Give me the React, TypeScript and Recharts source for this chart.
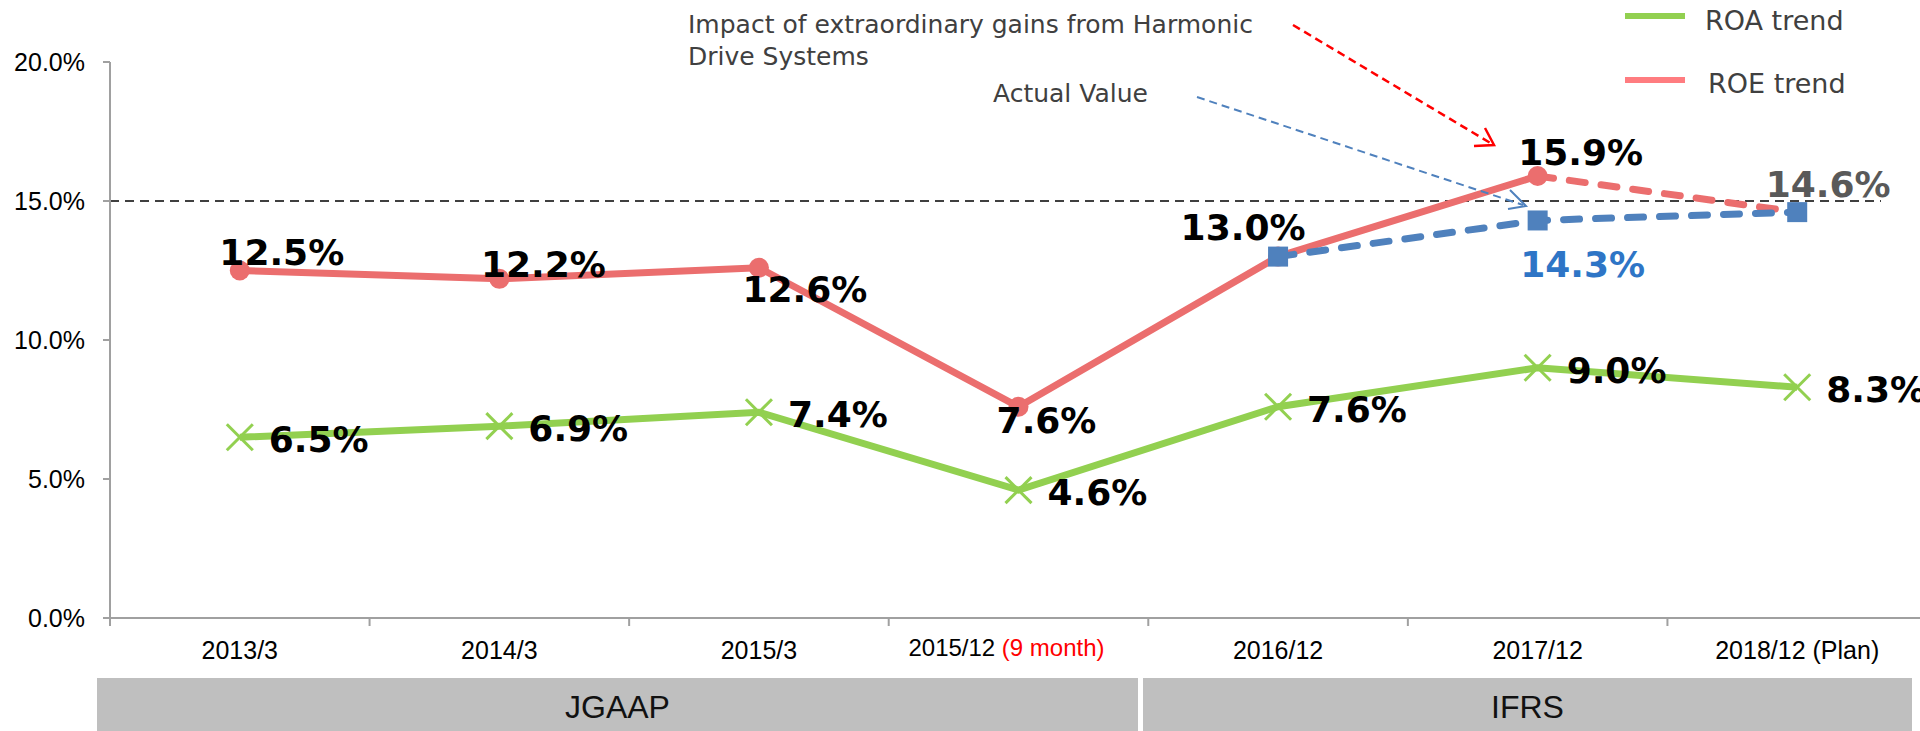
import React from "react";
import {
    LineChart,
    Line,
    XAxis,
    YAxis,
    ReferenceLine,
    LabelList
} from "recharts";

// fiscal periods on the x axis
const categories = ["2013/3", "2014/3", "2015/3", "2015/12", "2016/12", "2017/12", "2018/12"];
const categoryLabels = ["2013/3", "2014/3", "2015/3", "2015/12", "2016/12", "2017/12", "2018/12 (Plan)"];
const categoryNotes = ["", "", "", "(9 month)", "", "", ""];

// values in %
const roaValues = [6.5, 6.9, 7.4, 4.6, 7.6, 9.0, 8.3];
const roeValues = [12.5, 12.2, 12.6, 7.6, 13.0, 15.9, null];
const roeImpactValues = [null, null, null, null, null, 15.9, 14.6];
const actualValues = [null, null, null, null, 13.0, 14.3, 14.6];

const yTicks = [0, 5, 10, 15, 20];
const targetLine = 15;

const data = categories.map((name, i) => ({
    name,
    roa: roaValues[i],
    roe: roeValues[i],
    roeImpact: roeImpactValues[i],
    actual: actualValues[i]
}));

const CHART_W = 1927;
const CHART_H = 731;
const Y_W = 110;
const HALF_BAND = (CHART_W - Y_W) / categories.length / 2;

const GREEN = "#92D050";
const RED = "#EB6E6E";
const BLUE = "#4F81BD";
const AXIS = "#A0A0A0";
const LABEL_FONT = "'DejaVu Sans', Verdana, sans-serif";
const TICK_FONT = "'Liberation Sans', Arial, sans-serif";

// label placement per point (offset from the point)
const roeLabelPlace = [
    { dx: 42, dy: -6 },
    { dx: 44, dy: -2 },
    { dx: 46, dy: 34 },
    { dx: 28, dy: 26 },
    { dx: -35, dy: -17 },
    { dx: 43, dy: -11 },
    null
];
const actualLabelPlace = [
    null, null, null, null, null,
    { dx: 45, dy: 57, fill: "#2E75C6" },
    { dx: 31, dy: -15, fill: "#595959" }
];

const fmt = (v: number) => v.toFixed(1) + "%";

const makeLabel = (places: any[]) => (props: any) => {
    const { x, y, value, index } = props;
    const p = places[index];
    if (!p || value == null) return null;
    return (
        <text
            x={x + p.dx}
            y={y + p.dy}
            textAnchor="middle"
            fontFamily={LABEL_FONT}
            fontWeight="bold"
            fontSize={36}
            fill={p.fill || "#000"}
        >
            {fmt(value)}
        </text>
    );
};

const roaLabel = (props: any) => {
    const { x, y, value } = props;
    if (value == null) return null;
    return (
        <text x={x + 29} y={y + 15} fontFamily={LABEL_FONT} fontWeight="bold" fontSize={36} fill="#000">
            {fmt(value)}
        </text>
    );
};

const CrossDot = (props: any) => {
    const { cx, cy, index } = props;
    if (cx == null || cy == null) return <g key={`x-${index}`} />;
    const s = 13;
    return (
        <g key={`x-${index}`} stroke={GREEN} strokeWidth={3}>
            <line x1={cx - s} y1={cy - s} x2={cx + s} y2={cy + s} />
            <line x1={cx - s} y1={cy + s} x2={cx + s} y2={cy - s} />
        </g>
    );
};

const SquareDot = (props: any) => {
    const { cx, cy, index } = props;
    if (cx == null || cy == null) return <g key={`s-${index}`} />;
    return <rect key={`s-${index}`} x={cx - 10} y={cy - 10} width={20} height={20} fill={BLUE} />;
};

const CategoryTick = (props: any) => {
    const { x, y, payload, index } = props;
    const i = categories.indexOf(payload.value);
    const note = categoryNotes[i];
    return (
        <g key={`t-${index}`}>
            <line x1={x - HALF_BAND} y1={y} x2={x - HALF_BAND} y2={y + 8} stroke={AXIS} strokeWidth={2} />
            {note ? (
                <text x={x - 12} y={y + 38} textAnchor="middle" fontFamily={TICK_FONT} fontSize={24} fill="#000">
                    {categoryLabels[i] + " "}
                    <tspan fill="#FF0000">{note}</tspan>
                </text>
            ) : (
                <text x={x} y={y + 41} textAnchor="middle" fontFamily={TICK_FONT} fontSize={25} fill="#000">
                    {categoryLabels[i]}
                </text>
            )}
        </g>
    );
};

const TargetShape = (props: any) => {
    const { x1, y1, x2, y2 } = props;
    return (
        <line x1={x1} y1={y1} x2={x2 - 46} y2={y2} stroke="#404040" strokeWidth={2} strokeDasharray="9 6" />
    );
};

const boxStyle: React.CSSProperties = {
    position: "absolute",
    top: 678,
    height: 53,
    background: "#BFBFBF",
    display: "flex",
    alignItems: "center",
    justifyContent: "center",
    paddingTop: 6,
    boxSizing: "border-box",
    fontFamily: TICK_FONT,
    fontSize: 32,
    color: "#111"
};

export default function App() {
    return (
        <div style={{ position: "relative", width: 1920, height: CHART_H, overflow: "hidden", background: "#fff" }}>
            <style>{"body{margin:0}"}</style>
            <LineChart width={CHART_W} height={CHART_H} data={data} margin={{ top: 62, right: 0, bottom: 0, left: 0 }}>
                <XAxis
                    dataKey="name"
                    height={CHART_H - 618}
                    padding={{ left: HALF_BAND, right: HALF_BAND }}
                    axisLine={{ stroke: AXIS, strokeWidth: 2 }}
                    tickLine={false}
                    tickSize={0}
                    tickMargin={0}
                    interval={0}
                    tick={CategoryTick}
                />
                <YAxis
                    width={Y_W}
                    domain={[0, 20]}
                    ticks={yTicks}
                    tickFormatter={(v: number) => fmt(v)}
                    axisLine={{ stroke: AXIS, strokeWidth: 2 }}
                    tickLine={{ stroke: AXIS, strokeWidth: 2 }}
                    tickSize={7}
                    tickMargin={18}
                    tick={{ fill: "#000", fontSize: 25, fontFamily: TICK_FONT }}
                />
                <ReferenceLine y={targetLine} shape={TargetShape} />
                <Line
                    dataKey="roa"
                    stroke={GREEN}
                    strokeWidth={7}
                    dot={CrossDot}
                    activeDot={false}
                    isAnimationActive={false}
                >
                    <LabelList dataKey="roa" content={roaLabel} />
                </Line>
                <Line
                    dataKey="roe"
                    stroke={RED}
                    strokeWidth={7}
                    dot={{ r: 10, fill: RED, stroke: RED, strokeWidth: 0 }}
                    activeDot={false}
                    isAnimationActive={false}
                >
                    <LabelList dataKey="roe" content={makeLabel(roeLabelPlace)} />
                </Line>
                <Line
                    dataKey="roeImpact"
                    stroke={RED}
                    strokeWidth={7}
                    strokeDasharray="16 16"
                    strokeLinecap="round"
                    dot={false}
                    activeDot={false}
                    isAnimationActive={false}
                />
                <Line
                    dataKey="actual"
                    stroke={BLUE}
                    strokeWidth={7}
                    strokeDasharray="16 16"
                    strokeLinecap="round"
                    dot={SquareDot}
                    activeDot={false}
                    isAnimationActive={false}
                >
                    <LabelList dataKey="actual" content={makeLabel(actualLabelPlace)} />
                </Line>
            </LineChart>

            {/* annotations and legend */}
            <svg
                width={1920}
                height={CHART_H}
                style={{ position: "absolute", left: 0, top: 0, pointerEvents: "none" }}
            >
                <g fontFamily={LABEL_FONT} fontSize={25} fill="#404040">
                    <text x={688} y={33}>Impact of extraordinary gains from Harmonic</text>
                    <text x={688} y={65}>Drive Systems</text>
                    <text x={993} y={102}>Actual Value</text>
                </g>
                <g stroke="#FF0000" strokeWidth={2.5} fill="none">
                    <line x1={1293} y1={25} x2={1492} y2={144} strokeDasharray="8 5" />
                    <polyline points="1474,146 1494,145 1485,128" />
                </g>
                <g stroke={BLUE} strokeWidth={2} fill="none">
                    <line x1={1197} y1={97} x2={1523} y2={205} strokeDasharray="8 5" />
                    <polyline points="1510,190 1526,206 1508,209" />
                </g>
                <g fontFamily={LABEL_FONT} fontSize={27} fill="#404040">
                    <line x1={1625} y1={16} x2={1685} y2={16} stroke={GREEN} strokeWidth={6} />
                    <text x={1705} y={30}>ROA trend</text>
                    <line x1={1625} y1={80} x2={1685} y2={80} stroke="#FF7C80" strokeWidth={6} />
                    <text x={1708} y={93}>ROE trend</text>
                </g>
            </svg>

            <div style={{ ...boxStyle, left: 97, width: 1041 }}>JGAAP</div>
            <div style={{ ...boxStyle, left: 1143, width: 769 }}>IFRS</div>
        </div>
    );
}
